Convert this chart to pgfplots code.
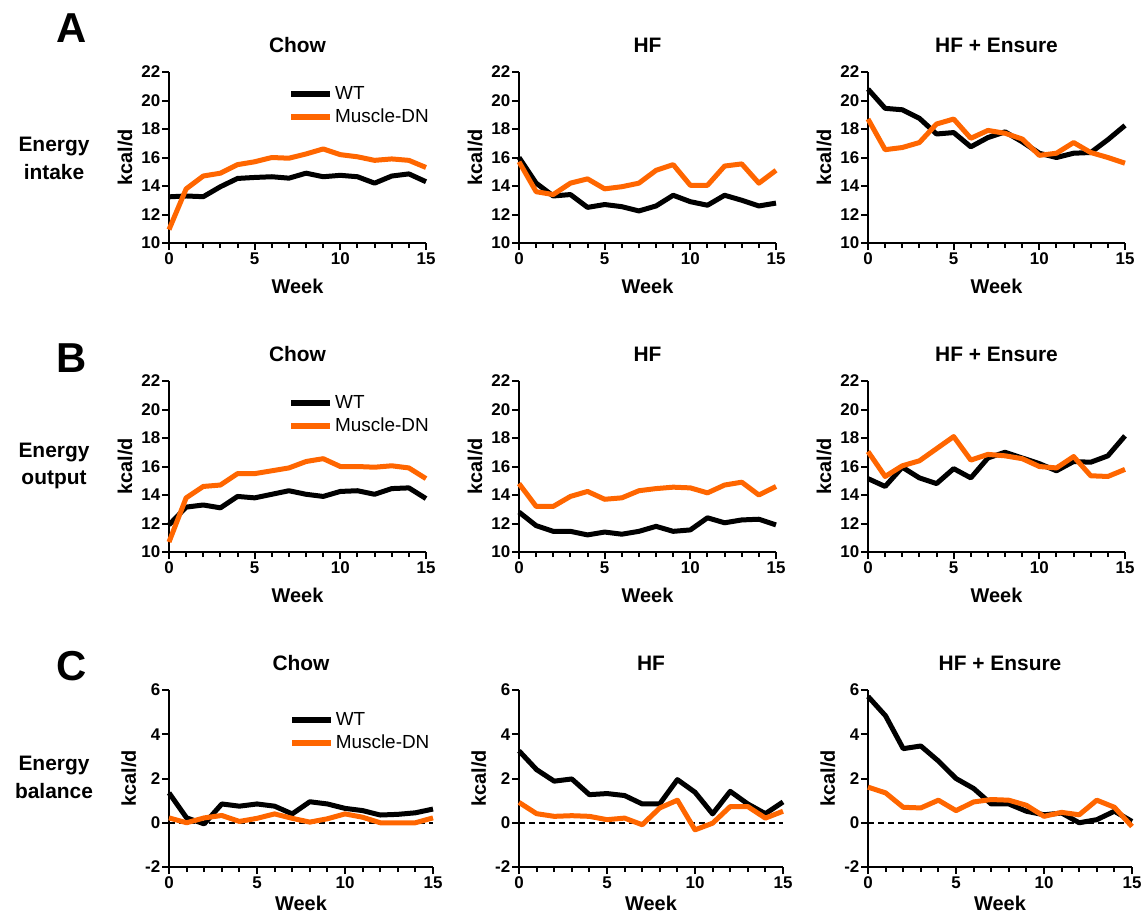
\documentclass[border=0pt]{standalone}
\usepackage{fontspec}
\setmainfont{Liberation Sans}
\usepackage{pgfplots}
\usepackage{pgfplotstable}
\pgfplotsset{compat=1.18}
\definecolor{DNorange}{HTML}{FF6600}

% energy intake
\pgfplotstableread{
week wt dn
0 13.24 10.94
1 13.30 13.80
2 13.25 14.70
3 13.95 14.90
4 14.53 15.50
5 14.60 15.70
6 14.65 16.00
7 14.55 15.95
8 14.90 16.25
9 14.65 16.60
10 14.75 16.20
11 14.65 16.05
12 14.20 15.80
13 14.70 15.90
14 14.85 15.80
15 14.30 15.30
}\inChow
\pgfplotstableread{
week wt dn
0 16.00 15.70
1 14.20 13.60
2 13.30 13.40
3 13.40 14.20
4 12.50 14.50
5 12.70 13.80
6 12.55 13.95
7 12.25 14.20
8 12.60 15.10
9 13.35 15.50
10 12.90 14.05
11 12.65 14.05
12 13.35 15.40
13 13.00 15.55
14 12.60 14.20
15 12.80 15.10
}\inHF
\pgfplotstableread{
week wt dn
0 20.80 18.70
1 19.45 16.55
2 19.35 16.70
3 18.75 17.05
4 17.65 18.35
5 17.75 18.70
6 16.75 17.35
7 17.40 17.90
8 17.80 17.70
9 17.10 17.30
10 16.30 16.15
11 16.00 16.30
12 16.30 17.05
13 16.35 16.35
14 17.25 16.00
15 18.25 15.60
}\inHFE
% energy output
\pgfplotstableread{
week wt dn
0 11.90 10.70
1 13.15 13.80
2 13.30 14.60
3 13.10 14.70
4 13.90 15.50
5 13.80 15.50
6 14.05 15.70
7 14.30 15.90
8 14.05 16.35
9 13.90 16.55
10 14.25 16.00
11 14.30 16.00
12 14.05 15.95
13 14.45 16.05
14 14.50 15.90
15 13.75 15.15
}\outChow
\pgfplotstableread{
week wt dn
0 12.80 14.80
1 11.85 13.20
2 11.45 13.20
3 11.45 13.90
4 11.20 14.25
5 11.40 13.70
6 11.25 13.80
7 11.45 14.30
8 11.80 14.45
9 11.45 14.55
10 11.55 14.50
11 12.40 14.15
12 12.05 14.70
13 12.25 14.90
14 12.30 14.00
15 11.90 14.60
}\outHF
\pgfplotstableread{
week wt dn
0 15.15 17.05
1 14.60 15.30
2 15.95 16.05
3 15.20 16.40
4 14.80 17.25
5 15.85 18.10
6 15.20 16.45
7 16.60 16.85
8 17.00 16.75
9 16.60 16.55
10 16.20 16.00
11 15.70 15.90
12 16.35 16.70
13 16.30 15.35
14 16.75 15.30
15 18.15 15.80
}\outHFE
% energy balance
\pgfplotstableread{
week wt dn
0 1.35 0.22
1 0.22 0.00
2 -0.05 0.22
3 0.85 0.33
4 0.75 0.06
5 0.85 0.20
6 0.75 0.40
7 0.40 0.20
8 0.95 0.03
9 0.85 0.18
10 0.65 0.40
11 0.55 0.25
12 0.35 0.00
13 0.38 -0.01
14 0.45 0.00
15 0.62 0.22
}\balChow
\pgfplotstableread{
week wt dn
0 3.25 0.92
1 2.40 0.41
2 1.88 0.29
3 1.98 0.32
4 1.27 0.29
5 1.32 0.14
6 1.23 0.21
7 0.85 -0.09
8 0.86 0.67
9 1.95 1.02
10 1.38 -0.32
11 0.40 -0.02
12 1.42 0.73
13 0.85 0.73
14 0.41 0.21
15 0.94 0.52
}\balHF
\pgfplotstableread{
week wt dn
0 5.71 1.61
1 4.83 1.35
2 3.35 0.70
3 3.47 0.67
4 2.79 1.02
5 2.00 0.55
6 1.55 0.94
7 0.85 1.05
8 0.85 1.02
9 0.52 0.79
10 0.36 0.29
11 0.44 0.47
12 0.00 0.36
13 0.14 1.02
14 0.52 0.70
15 0.06 -0.17
}\balHFE

\pgfplotsset{
  panel/.style={
    scale only axis, width=257bp, height=171bp, anchor=south west,
    xmin=0, xmax=15, xtick={0,5,10,15}, xticklabels={0,5,10,15},
    minor xtick={1,2,3,4,6,7,8,9,11,12,13,14},
    axis x line*=bottom, axis y line*=left,
    axis line style={line width=2.5bp, black},
    tick align=outside, major tick length=7bp, minor tick length=5bp,
    every tick/.style={line width=2bp, black},
    tick label style={font=\fontsize{17}{19}\selectfont\bfseries},
    yticklabel style={inner xsep=1.5bp},
    xticklabel style={inner ysep=2.5bp},
    label style={font=\fontsize{20}{23}\selectfont\bfseries},
    xlabel=Week, ylabel={kcal/d},
    ylabel style={yshift=4bp},
    title style={font=\fontsize{21}{24}\selectfont\bfseries,
      at={(0.5,1)}, anchor=base, yshift=14bp},
    clip=false,
    legend style={draw=none, fill=none, font=\fontsize{19}{22}\selectfont,
      at={(0.465,0.927)}, anchor=north west, row sep=4bp, inner sep=0pt},
    legend cell align=left,
    legend image code/.code={\draw[line width=5.5bp] (0bp,0bp) -- (39bp,0bp);},
  },
  energy/.style={panel, ymin=10, ymax=22, ytick={10,12,...,22},
    yticklabels={10,12,14,16,18,20,22}, xlabel style={yshift=-8bp}},
  balance/.style={panel, width=264bp, height=177bp, ymin=-2, ymax=6,
    ytick={-2,0,2,4,6}, yticklabels={-2,0,2,4,6},
    xlabel style={inner ysep=0.5bp, yshift=-4bp},
    legend style={at={(0.455,0.884)}}},
  wtline/.style={black, line width=5bp, line join=round},
  dnline/.style={DNorange, line width=5bp, line join=round},
  zeroline/.style={black, line width=1.5bp, dash pattern=on 6bp off 4bp, forget plot},
}

\begin{document}
\begin{tikzpicture}
\useasboundingbox (0,0) rectangle (1142bp,-915bp);

% row labels
\node[font=\fontsize{42}{44}\selectfont\bfseries] at (72bp,-28bp) {A};
\node[font=\fontsize{42}{44}\selectfont\bfseries] at (72bp,-358bp) {B};
\node[font=\fontsize{42}{44}\selectfont\bfseries] at (72bp,-666bp) {C};
\node[font=\fontsize{21}{28}\selectfont\bfseries, align=center] at (54bp,-158bp) {Energy\\intake};
\node[font=\fontsize{21}{28}\selectfont\bfseries, align=center] at (54bp,-466bp) {Energy\\output};
\node[font=\fontsize{21}{28}\selectfont\bfseries, align=center] at (54bp,-777bp) {Energy\\balance};

% A: energy intake
\begin{axis}[energy, at={(169bp,-243bp)}, title=Chow]
  \addplot[wtline] table[x=week, y=wt] {\inChow};
  \addlegendentry{WT}
  \addplot[dnline] table[x=week, y=dn] {\inChow};
  \addlegendentry{Muscle-DN}
\end{axis}
\begin{axis}[energy, at={(519bp,-243bp)}, title=HF]
  \addplot[wtline] table[x=week, y=wt] {\inHF};
  \addplot[dnline] table[x=week, y=dn] {\inHF};
\end{axis}
\begin{axis}[energy, at={(868bp,-243bp)}, title={HF + Ensure}]
  \addplot[wtline] table[x=week, y=wt] {\inHFE};
  \addplot[dnline] table[x=week, y=dn] {\inHFE};
\end{axis}

% B: energy output
\begin{axis}[energy, at={(169bp,-552bp)}, title=Chow]
  \addplot[wtline] table[x=week, y=wt] {\outChow};
  \addlegendentry{WT}
  \addplot[dnline] table[x=week, y=dn] {\outChow};
  \addlegendentry{Muscle-DN}
\end{axis}
\begin{axis}[energy, at={(519bp,-552bp)}, title=HF]
  \addplot[wtline] table[x=week, y=wt] {\outHF};
  \addplot[dnline] table[x=week, y=dn] {\outHF};
\end{axis}
\begin{axis}[energy, at={(868bp,-552bp)}, title={HF + Ensure}]
  \addplot[wtline] table[x=week, y=wt] {\outHFE};
  \addplot[dnline] table[x=week, y=dn] {\outHFE};
\end{axis}

% C: energy balance
\begin{axis}[balance, at={(169bp,-867bp)}, title=Chow]
  \addplot[zeroline] coordinates {(0,0) (15,0)};
  \addplot[wtline] table[x=week, y=wt] {\balChow};
  \addlegendentry{WT}
  \addplot[dnline] table[x=week, y=dn] {\balChow};
  \addlegendentry{Muscle-DN}
\end{axis}
\begin{axis}[balance, at={(519bp,-867bp)}, title=HF]
  \addplot[zeroline] coordinates {(0,0) (15,0)};
  \addplot[wtline] table[x=week, y=wt] {\balHF};
  \addplot[dnline] table[x=week, y=dn] {\balHF};
\end{axis}
\begin{axis}[balance, at={(868bp,-867bp)}, title={HF + Ensure}]
  \addplot[zeroline] coordinates {(0,0) (15,0)};
  \addplot[wtline] table[x=week, y=wt] {\balHFE};
  \addplot[dnline] table[x=week, y=dn] {\balHFE};
\end{axis}
\end{tikzpicture}
\end{document}
